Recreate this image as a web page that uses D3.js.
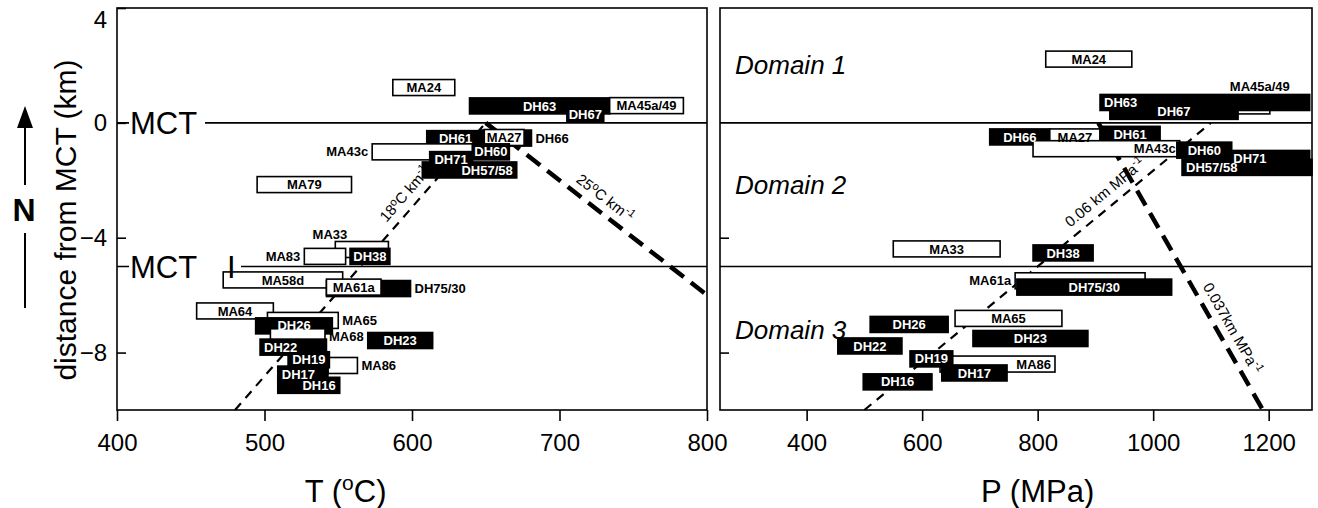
<!DOCTYPE html>
<html>
<head>
<meta charset="utf-8">
<script src="https://cdn.jsdelivr.net/npm/d3@7"></script>
<style>
  body { margin: 0; background: #fff; }
  svg { font-family: 'Liberation Sans', Arial, sans-serif; }
  .box-label { font-size: 13px; font-weight: bold; }
  .tick text { font-size: 24px; font-family: 'Liberation Sans', Arial, sans-serif; }
</style>
</head>
<body>
<div id="chart"></div>
<script>
// T range (deg C) of each sample, plotted at its distance from the MCT (km)
const tempSamples = [
  {id: 'MA24',     lo: 587, hi: 629, dist: 1.23},
  {id: 'DH63',     lo: 639, hi: 734, dist: 0.59},
  {id: 'MA45a/49', lo: 734, hi: 784, dist: 0.60},
  {id: 'DH67',     lo: 705, hi: 730, dist: 0.31},
  {id: 'DH66',     lo: 646, hi: 681, dist: -0.53},
  {id: 'DH61',     lo: 610, hi: 649, dist: -0.55},
  {id: 'MA27',     lo: 649, hi: 676, dist: -0.51},
  {id: 'MA43c',    lo: 573, hi: 641, dist: -1.01},
  {id: 'DH60',     lo: 641, hi: 666, dist: -1.01},
  {id: 'DH71',     lo: 612, hi: 641, dist: -1.28},
  {id: 'DH57/58',  lo: 607, hi: 671, dist: -1.64},
  {id: 'MA79',     lo: 495, hi: 559, dist: -2.15},
  {id: 'MA33',     lo: 548, hi: 584, dist: -4.41},
  {id: 'MA83',     lo: 527, hi: 555, dist: -4.65},
  {id: 'DH38',     lo: 558, hi: 585, dist: -4.65},
  {id: 'MA58d',    lo: 472, hi: 553, dist: -5.47},
  {id: 'DH75/30',  lo: 542, hi: 599, dist: -5.77},
  {id: 'MA61a',    lo: 542, hi: 579, dist: -5.72},
  {id: 'MA64',     lo: 454, hi: 506, dist: -6.55},
  {id: 'MA65',     lo: 502, hi: 550, dist: -6.88},
  {id: 'DH26',     lo: 494, hi: 546, dist: -7.07},
  {id: 'MA68',     lo: 504, hi: 541, dist: -7.45},
  {id: 'DH23',     lo: 570, hi: 614, dist: -7.58},
  {id: 'DH22',     lo: 497, hi: 542, dist: -7.81},
  {id: 'MA86',     lo: 543, hi: 563, dist: -8.45},
  {id: 'DH19',     lo: 516, hi: 544, dist: -8.25},
  {id: 'DH17',     lo: 509, hi: 543, dist: -8.75},
  {id: 'DH16',     lo: 509, hi: 551, dist: -9.14}
];

// P range (MPa) of each sample
const presSamples = [
  {id: 'MA24',     lo: 814,  hi: 963,  dist: 2.22},
  {id: 'MA45a/49', lo: 1000, hi: 1202, dist: 0.59},
  {id: 'DH63',     lo: 908,  hi: 1271, dist: 0.71},
  {id: 'DH67',     lo: 925,  hi: 1147, dist: 0.40},
  {id: 'DH66',     lo: 717,  hi: 821,  dist: -0.49},
  {id: 'MA27',     lo: 821,  hi: 908,  dist: -0.49},
  {id: 'DH61',     lo: 908,  hi: 1012, dist: -0.40},
  {id: 'MA43c',    lo: 792,  hi: 1046, dist: -0.90},
  {id: 'DH60',     lo: 1041, hi: 1136, dist: -0.95},
  {id: 'DH71',     lo: 1064, hi: 1271, dist: -1.24},
  {id: 'DH57/58',  lo: 1050, hi: 1275, dist: -1.55},
  {id: 'MA33',     lo: 550,  hi: 735,  dist: -4.39},
  {id: 'DH38',     lo: 792,  hi: 896,  dist: -4.53},
  {id: 'MA61a',    lo: 761,  hi: 986,  dist: -5.50},
  {id: 'DH75/30',  lo: 764,  hi: 1032, dist: -5.72},
  {id: 'MA65',     lo: 657,  hi: 842,  dist: -6.81},
  {id: 'DH26',     lo: 510,  hi: 645,  dist: -7.02},
  {id: 'DH23',     lo: 688,  hi: 887,  dist: -7.51},
  {id: 'DH22',     lo: 454,  hi: 565,  dist: -7.77},
  {id: 'MA86',     lo: 631,  hi: 830,  dist: -8.40},
  {id: 'DH19',     lo: 579,  hi: 653,  dist: -8.22},
  {id: 'DH17',     lo: 634,  hi: 747,  dist: -8.71},
  {id: 'DH16',     lo: 498,  hi: 617,  dist: -9.02}
];

// gradient lines [value, dist]
const tGrad18 = [[480, -10], [650, 0]];
const tGrad25 = [[650, 0], [800, -6]];
const pGrad006 = [[500, -10], [1100, 0]];
const pGrad0037 = [[905, 0], [1190, -10]];

const distTicks = [4, 0, -4, -8];
const tTicks = [400, 500, 600, 700, 800];
const pTicks = [400, 600, 800, 1000, 1200];
const boundaries = [0, -5];
const domainLabels = [
  {text: 'Domain 1', dist: 2.0},
  {text: 'Domain 2', dist: -2.16},
  {text: 'Domain 3', dist: -7.21}
];

// where the sample name goes (default: centred inside the box)
const tempLabelPos = {
  'MA43c': 'left', 'MA83': 'left', 'MA33': 'aboveL',
  'DH66': 'right', 'DH75/30': 'right', 'MA65': 'right', 'MA68': 'right', 'MA86': 'right',
  'DH57/58': 'inR', 'DH16': 'inR', 'DH17': 'inL', 'DH22': 'inL'
};
const presLabelPos = {
  'MA45a/49': 'aboveR', 'MA61a': 'left',
  'DH63': 'inL', 'DH57/58': 'inL', 'MA43c': 'inR', 'MA86': 'inR'
};

const width = 1318, height = 508;
const svg = d3.select('#chart').append('svg')
  .attr('width', width)
  .attr('height', height);

const y = d3.scaleLinear().domain([-10, 4]).range([410, 8]);
const xT = d3.scaleLinear().domain([400, 800]).range([117, 707]);
const xP = d3.scaleLinear().domain([250, 1275]).range([720, 1312]);
const boxH = 16;

function gradientLine(g, x, pts, thick) {
  g.append('line')
    .attr('x1', x(pts[0][0])).attr('y1', y(pts[0][1]))
    .attr('x2', x(pts[1][0])).attr('y2', y(pts[1][1]))
    .attr('stroke', '#000')
    .attr('stroke-width', thick ? 4.5 : 2.2)
    .attr('stroke-dasharray', thick ? '17,9' : '9,7');
}

// text parallel to a gradient line, at fraction f along it
function gradientLabel(g, x, pts, f, off, parts) {
  const ax = x(pts[0][0]), ay = y(pts[0][1]);
  const bx = x(pts[1][0]), by = y(pts[1][1]);
  let ang = Math.atan2(by - ay, bx - ax) * 180 / Math.PI;
  if (ang > 90) ang -= 180;
  if (ang < -90) ang += 180;
  const px = ax + (bx - ax) * f, py = ay + (by - ay) * f;
  const t = g.append('text')
    .attr('transform', `translate(${px},${py}) rotate(${ang})`)
    .attr('y', off)
    .attr('text-anchor', 'middle')
    .attr('font-size', 15);
  parts.forEach(p => {
    t.append('tspan')
      .attr('dy', p.dy || 0)
      .attr('font-size', p.sup ? 11 : 15)
      .text(p.s);
  });
}

function drawPanel(x, samples, labelPos, gradients) {
  const g = svg.append('g');
  const [x0, x1] = x.range();

  g.selectAll('.bound')
    .data(boundaries)
    .join('line')
    .attr('class', 'bound')
    .attr('x1', x0).attr('x2', x1)
    .attr('y1', d => y(d)).attr('y2', d => y(d))
    .attr('stroke', '#000')
    .attr('stroke-width', 1.6);

  // gradient lines sit behind the sample boxes
  gradients.forEach(gr => gradientLine(g, x, gr.pts, gr.thick));

  g.selectAll('.box')
    .data(samples)
    .join('rect')
    .attr('class', 'box')
    .attr('x', d => x(d.lo))
    .attr('y', d => y(d.dist) - boxH / 2)
    .attr('width', d => x(d.hi) - x(d.lo))
    .attr('height', boxH)
    .attr('fill', d => d.id.startsWith('DH') ? '#000' : '#fff')
    .attr('stroke', '#000')
    .attr('stroke-width', 1.6);

  g.selectAll('.box-label')
    .data(samples)
    .join('text')
    .attr('class', 'box-label')
    .each(function(d) {
      const pos = labelPos[d.id] || 'in';
      const bx0 = x(d.lo), bx1 = x(d.hi), cy = y(d.dist);
      let tx = (bx0 + bx1) / 2, ty = cy + 4.6, anchor = 'middle';
      let fill = d.id.startsWith('DH') ? '#fff' : '#000';
      if (pos === 'inL') { tx = bx0 + 4; anchor = 'start'; }
      if (pos === 'inR') { tx = bx1 - 4; anchor = 'end'; }
      if (pos === 'left') { tx = bx0 - 4; anchor = 'end'; fill = '#000'; }
      if (pos === 'right') { tx = bx1 + 4; anchor = 'start'; fill = '#000'; }
      if (pos === 'aboveL') { tx = bx0 + 12; ty = cy - boxH / 2 - 2; anchor = 'end'; fill = '#000'; }
      if (pos === 'aboveR') { tx = bx1 + 20; ty = cy - boxH / 2 - 7; anchor = 'end'; fill = '#000'; }
      d3.select(this)
        .attr('x', tx).attr('y', ty)
        .attr('text-anchor', anchor)
        .attr('fill', fill)
        .text(d.id);
    });

  g.append('rect')
    .attr('x', x0).attr('y', y.range()[1])
    .attr('width', x1 - x0)
    .attr('height', y.range()[0] - y.range()[1])
    .attr('fill', 'none')
    .attr('stroke', '#000')
    .attr('stroke-width', 1.6);

  return g;
}

// left panel: temperature
const left = drawPanel(xT, tempSamples, tempLabelPos, [
  {pts: tGrad18, thick: false}, {pts: tGrad25, thick: true}
]);
gradientLabel(left, xT, tGrad18, 0.72, -9, [
  {s: '18'}, {s: 'o', sup: true, dy: -5}, {s: 'C km', dy: 5}, {s: '-1', sup: true, dy: -6}
]);
gradientLabel(left, xT, tGrad25, 0.5, -9, [
  {s: '25'}, {s: 'o', sup: true, dy: -5}, {s: 'C km', dy: 5}, {s: '-1', sup: true, dy: -6}
]);

// right panel: pressure
const right = drawPanel(xP, presSamples, presLabelPos, [
  {pts: pGrad006, thick: false}, {pts: pGrad0037, thick: true}
]);
gradientLabel(right, xP, pGrad006, 0.72, -9, [
  {s: '0.06 km MPa'}, {s: '-1', sup: true, dy: -6}
]);
gradientLabel(right, xP, pGrad0037, 0.74, -9, [
  {s: '0.037km MPa'}, {s: '-1', sup: true, dy: -6}
]);

right.selectAll('.domain-label')
  .data(domainLabels)
  .join('text')
  .attr('class', 'domain-label')
  .attr('x', 735)
  .attr('y', d => y(d.dist) + 9)
  .attr('font-size', 26)
  .attr('font-style', 'italic')
  .text(d => d.text);

// axes
const fmt = d3.format('d');
const xAxisT = d3.axisBottom(xT).tickValues(tTicks).tickFormat(fmt).tickSize(11).tickPadding(13).tickSizeOuter(0);
const xAxisP = d3.axisBottom(xP).tickValues(pTicks).tickFormat(fmt).tickSize(11).tickPadding(13).tickSizeOuter(0);
svg.append('g').attr('transform', 'translate(0,410)').call(xAxisT);
svg.append('g').attr('transform', 'translate(0,410)').call(xAxisP);

const yAxisL = d3.axisLeft(y).tickValues(distTicks).tickFormat(fmt).tickSizeInner(-9).tickPadding(10).tickSizeOuter(0);
const yAxisR = d3.axisLeft(y).tickValues([-4, -8]).tickSizeInner(-9).tickSizeOuter(0).tickFormat('');
svg.append('g').attr('transform', 'translate(117,0)').call(yAxisL)
  .selectAll('.tick text').filter(d => d === 4).attr('dy', '0.8em');
svg.append('g').attr('transform', 'translate(720,0)').call(yAxisR);
svg.selectAll('.domain').remove();
svg.selectAll('.tick line').attr('stroke-width', 1.6);

// MCT / MCT I labels over the boundary lines
[{text: 'MCT', dist: 0, w: 76}, {text: 'MCT', dist: -5, w: 112}].forEach(m => {
  svg.append('rect')
    .attr('x', 129).attr('y', y(m.dist) - 4)
    .attr('width', m.w).attr('height', 8)
    .attr('fill', '#fff');
  svg.append('text')
    .attr('x', 130).attr('y', y(m.dist))
    .attr('dy', '0.36em')
    .attr('font-size', 31)
    .text(m.text);
});
svg.append('text')
  .attr('x', 227).attr('y', y(-5))
  .attr('dy', '0.36em')
  .attr('font-size', 31)
  .text('I');

// axis titles
svg.append('text')
  .attr('x', xT(555)).attr('y', 502)
  .attr('text-anchor', 'middle')
  .attr('font-size', 31)
  .call(t => {
    t.append('tspan').text('T (');
    t.append('tspan').attr('font-size', 21).attr('dy', -12).text('o');
    t.append('tspan').attr('dy', 12).text('C)');
  });
svg.append('text')
  .attr('x', xP(800)).attr('y', 502)
  .attr('text-anchor', 'middle')
  .attr('font-size', 31)
  .text('P (MPa)');
svg.append('text')
  .attr('transform', 'translate(76,220) rotate(-90)')
  .attr('text-anchor', 'middle')
  .attr('font-size', 30)
  .text('distance from MCT (km)');

// north arrow
svg.append('text')
  .attr('x', 24).attr('y', 221)
  .attr('text-anchor', 'middle')
  .attr('font-size', 32)
  .attr('font-weight', 'bold')
  .text('N');
svg.append('line').attr('x1', 25).attr('x2', 25).attr('y1', 185).attr('y2', 122)
  .attr('stroke', '#000').attr('stroke-width', 2);
svg.append('path').attr('d', 'M17,128 L25,106 L33,128 Z').attr('fill', '#000');
svg.append('line').attr('x1', 25).attr('x2', 25).attr('y1', 233).attr('y2', 308)
  .attr('stroke', '#000').attr('stroke-width', 2);
</script>
</body>
</html>
